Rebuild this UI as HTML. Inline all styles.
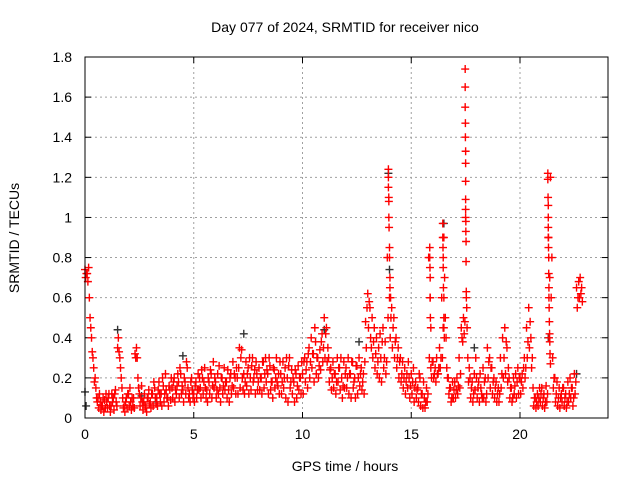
<!DOCTYPE html>
<html><head><meta charset="utf-8">
<style>
html,body{margin:0;padding:0;background:#fff;}
svg{display:block;font-family:"Liberation Sans",sans-serif;}
</style></head>
<body>
<svg id="chart" width="640" height="480" viewBox="0 0 640 480">
<text x="345" y="32" font-size="14" text-anchor="middle" fill="#000">Day 077 of 2024, SRMTID for receiver nico</text>
<text x="345" y="471" font-size="14" text-anchor="middle" fill="#000">GPS time / hours</text>
<text x="19" y="238" font-size="14" text-anchor="middle" fill="#000" transform="rotate(-90 19 238)">SRMTID / TECUs</text>
<g id="grid"></g>
<g id="ticks"></g>
<g id="dark"></g>
<g id="pts"></g>
<rect x="85" y="57" width="523" height="361" fill="none" stroke="#000" stroke-width="1"/>
</svg>
<script>
const xTicks = [0,5,10,15,20];
const yTicks = [0,0.2,0.4,0.6,0.8,1,1.2,1.4,1.6,1.8];
const yTickLabels = ["0","0.2","0.4","0.6","0.8","1","1.2","1.4","1.6","1.8"];
const slotHours = 0.1;
const seriesA = [
.74,.72,.60,.40,.25,.15,.10,.08,.06,.09,
.08,.12,.06,.10,.14,.35,.30,.15,.06,.10,
.12,.08,.06,.32,.30,.12,.16,.08,.05,.10,
.08,.12,.15,.10,.18,.12,.16,.22,.10,.14,
.15,.20,.12,.18,.22,.14,.18,.25,.12,.20,
.12,.18,.22,.15,.20,.25,.14,.18,.22,.28,
.18,.22,.15,.20,.25,.18,.14,.22,.28,.20,
.20,.35,.34,.22,.28,.25,.20,.30,.24,.22,
.25,.20,.28,.30,.22,.26,.18,.24,.30,.22,
.22,.28,.25,.20,.30,.24,.18,.22,.26,.20,
.22,.30,.28,.35,.40,.32,.38,.30,.34,.42,
.50,.45,.30,.25,.28,.22,.30,.25,.20,.28,
.25,.30,.22,.28,.20,.26,.30,.25,.22,.48,
.62,.55,.50,.45,.40,.35,.30,.45,.38,.80,
.60,.55,.50,.40,.35,.30,.28,.25,.22,.20,
.22,.25,.18,.15,.20,.12,.10,.15,.80,.25,
.28,.25,.22,.35,.60,.90,.40,.20,.15,.18,
.18,.20,.30,.45,.50,1.00,.30,.20,.18,.22,
.20,.18,.15,.25,.20,.35,.30,.25,.20,.18,
.15,.30,.40,.45,.35,.20,.15,.20,.22,.25,
.20,.22,.30,.45,.55,.40,.15,.10,.12,.15,
.15,.12,.16,.90,1.20,.30,.20,.18,.15,.12,
.15,.12,.18,.20,.15,.22,.65,.68,.62];
const seriesB = [
.70,.68,.50,.33,.18,.10,.05,.04,.10,.05,
.05,.06,.12,.04,.08,.40,.25,.10,.03,.05,
.06,.04,.10,.30,.20,.06,.08,.12,.03,.14,
.05,.06,.10,.06,.12,.06,.08,.14,.06,.09,
.10,.08,.16,.10,.12,.08,.12,.15,.08,.14,
.08,.10,.14,.10,.12,.15,.08,.12,.10,.15,
.10,.12,.08,.12,.14,.10,.08,.12,.15,.12,
.12,.15,.20,.12,.16,.12,.14,.18,.12,.14,
.14,.12,.15,.18,.12,.14,.10,.15,.18,.12,
.12,.15,.10,.08,.15,.12,.08,.10,.14,.12,
.12,.18,.15,.20,.25,.18,.22,.20,.24,.28,
.30,.28,.18,.14,.15,.12,.18,.14,.10,.15,
.15,.12,.10,.15,.10,.12,.16,.14,.12,.35,
.45,.40,.30,.25,.22,.20,.18,.25,.22,.50,
.40,.35,.30,.25,.20,.18,.15,.12,.15,.10,
.12,.08,.10,.08,.06,.05,.05,.08,.30,.20,
.20,.18,.22,.25,.30,.70,.25,.12,.08,.10,
.10,.12,.15,.40,.42,.60,.18,.10,.08,.14,
.10,.08,.12,.10,.08,.20,.15,.12,.10,.08,
.08,.15,.20,.22,.18,.10,.08,.12,.10,.12,
.12,.15,.20,.30,.35,.25,.06,.05,.06,.08,
.06,.05,.08,.40,.60,.15,.08,.06,.05,.08,
.06,.05,.08,.10,.06,.12,.55,.60,.65];
const seriesC = [
.72,.75,.45,.30,.20,.08,.12,.06,.03,.12,
.10,.03,.08,.12,.06,.33,.20,.05,.08,.12,
.15,.10,.05,.35,.15,.10,.04,.06,.10,.07,
.12,.18,.07,.14,.08,.20,.12,.10,.16,.20,
.18,.14,.22,.25,.16,.20,.28,.10,.18,.10,
.16,.14,.20,.24,.18,.10,.20,.24,.16,.20,
.14,.26,.20,.16,.18,.24,.20,.16,.22,.25,
.25,.30,.14,.18,.22,.30,.26,.20,.28,.18,
.20,.28,.22,.24,.30,.18,.25,.20,.16,.28,
.18,.20,.30,.26,.18,.20,.24,.16,.20,.28,
.28,.24,.32,.28,.32,.45,.30,.26,.38,.35,
.42,.35,.24,.20,.22,.18,.25,.30,.16,.22,
.20,.22,.28,.18,.26,.20,.22,.18,.28,.55,
.58,.35,.38,.32,.28,.42,.38,.30,.28,1.10,
.50,.45,.38,.30,.28,.22,.20,.18,.28,.16,
.18,.15,.14,.22,.12,.18,.08,.12,.60,.28,
.22,.30,.25,.30,.45,.50,.20,.15,.10,.14,
.14,.16,.22,.38,.48,.45,.25,.15,.12,.30,
.15,.22,.10,.18,.12,.28,.25,.18,.15,.12,
.12,.22,.30,.38,.25,.15,.10,.16,.18,.20,
.18,.25,.25,.38,.48,.30,.10,.08,.10,.12,
.10,.08,.12,.70,.80,.20,.12,.10,.10,.15,
.10,.08,.12,.15,.10,.18,.60,.70,.58];
const spikeTimes = [13.95,13.95,13.95,13.97,13.97,13.98,14.0,14.0,14.02,14.02,14.05,
15.85,15.85,15.86,15.87,15.87,15.88,15.9,
16.45,16.45,16.46,16.47,16.47,16.48,16.5,16.5,16.5,16.52,
17.48,17.48,17.48,17.49,17.49,17.5,17.5,17.5,17.5,17.5,17.51,17.51,17.52,17.52,17.53,17.55,
21.28,21.28,21.29,21.3,21.3,21.3,21.31,21.31,21.32,21.32,21.33,21.33,21.34,21.35,21.36,21.37,21.38,21.4];
const spikeValues = [1.24,1.2,1.15,1.08,1.0,0.95,0.85,0.8,0.7,0.65,0.6,
.85,.8,.75,.7,.6,.5,.45,
.97,.9,.85,.8,.75,.65,.6,.5,.45,.4,
1.74,1.65,1.55,1.47,1.4,1.33,1.27,1.18,1.09,1.04,.98,.93,.88,.78,.63,.55,
1.22,1.19,1.1,1.06,1.0,.95,.9,.85,.8,.72,.65,.6,.55,.48,.42,.38,.32,.27];
const darkTimes = [0.0,0.05,1.5,2.6,3.3,4.5,7.3,11.0,12.6,13.95,14.0,16.5,17.9,21.3,22.6];
const darkValues = [0.13,0.06,0.44,0.11,0.08,0.31,0.42,0.44,0.38,1.22,0.74,0.97,0.35,0.4,0.22];

const X0=85, X1=607, Y0=418, Y1=57;
function xs(h){return X0+(X1-X0)*h/24;}
function ys(v){return Y0-(Y0-Y1)*v/1.8;}
const NS="http://www.w3.org/2000/svg";
const grid=document.getElementById('grid'), ticks=document.getElementById('ticks');
function mk(tag,attrs,parent){const e=document.createElementNS(NS,tag);for(const k in attrs)e.setAttribute(k,attrs[k]);parent.appendChild(e);return e;}
xTicks.forEach(function(t){
  const x=xs(t);
  if(t>0){const g=mk('line',{x1:x,x2:x,y1:Y1,y2:Y0,stroke:'#a0a0a0','stroke-dasharray':'2,3','stroke-width':1},grid);
  
  }
  const a=mk('line',{x1:x,x2:x,y1:Y0,y2:Y0-6,stroke:'#000'},ticks);
  
  
  const b=mk('line',{x1:x,x2:x,y1:Y1,y2:Y1+6,stroke:'#000'},ticks);
  
  
  const l=mk('text',{x:x,y:Y0+21,'font-size':14,'text-anchor':'middle',fill:'#000'},ticks);
  l.textContent=String(t);
  
  
});
yTicks.forEach(function(t,i){
  const y=ys(t);
  if(i>0 && i<yTicks.length-1){const g=mk('line',{x1:X0,x2:608,y1:y,y2:y,stroke:'#a0a0a0','stroke-dasharray':'2,3','stroke-width':1},grid);
  
  }
  const a=mk('line',{x1:X0,x2:X0+6,y1:y,y2:y,stroke:'#000'},ticks);
  
  
  const b=mk('line',{x1:608,x2:602,y1:y,y2:y,stroke:'#000'},ticks);
  
  
  const l=mk('text',{x:X0-13,y:y+5,'font-size':14,'text-anchor':'end',fill:'#000'},ticks);
  l.textContent=yTickLabels[i];
  
  
});
function plus(parent,h,v,color){
  const x=xs(h), y=ys(v);
  const p=mk('path',{d:'M'+(x-4)+' '+y+'H'+(x+4)+'M'+x+' '+(y-4)+'V'+(y+4),stroke:color,'stroke-width':1.4,fill:'none'},parent);
  
  
}
const dark=document.getElementById('dark'), pts=document.getElementById('pts');
darkTimes.forEach(function(t,i){plus(dark,t,darkValues[i],'#333');});
[seriesA,seriesB,seriesC].forEach(function(s,k){
  s.forEach(function(v,i){plus(pts,i*slotHours+k*0.033,v,'#ff0000');});
});
spikeTimes.forEach(function(t,i){plus(pts,t,spikeValues[i],'#ff0000');});
</script>
</body></html>
